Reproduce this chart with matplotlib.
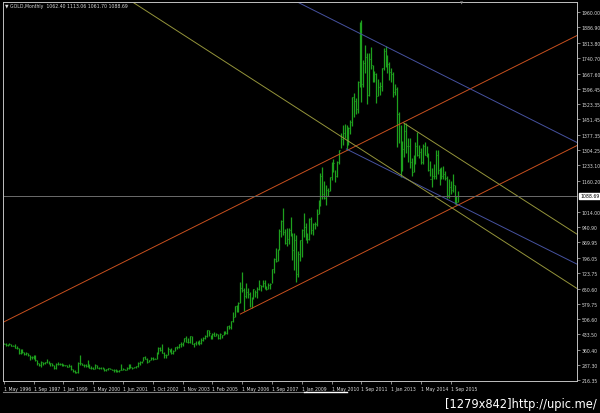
import numpy as np
import matplotlib.pyplot as plt
from matplotlib.lines import Line2D
import matplotlib.transforms as mtransforms

# GOLD monthly bars (May 1996 .. Jan 2016, broker feed with a few doubled months)
highs = [
    395, 393, 389, 391, 389, 385, 386, 378,
    369, 366, 363, 348, 350, 346, 335, 332, 336, 334, 311, 298,
    309, 304, 304, 315, 310, 299, 296, 290, 298, 305, 300, 298,
    292, 291, 291, 292, 290, 270, 264, 258, 304, 338, 300, 294,
    292, 313, 294, 285, 279, 294, 291, 280, 279, 279, 274, 272, 276, 276,
    272, 268, 268, 266, 265, 292, 277, 271, 281, 294, 293, 280, 281,
    283, 304, 306, 309, 328, 330, 322, 313, 327, 327, 321, 349,
    372, 372, 388, 352, 341, 372, 366, 371, 361, 376, 378, 390, 396, 399, 417,
    428, 417, 428, 428, 394, 404, 401, 408, 415, 419, 429, 455, 456,
    430, 439, 445, 438, 434, 442, 431, 448, 452, 474, 477, 497, 540,
    570, 574, 585, 680, 730, 652, 676, 652, 636, 612, 650, 644,
    660, 689, 667, 692, 691, 664, 677, 675, 745, 795, 841, 836,
    930, 976, 1033, 933, 935, 937, 988, 915, 912, 904, 830, 881,
    933, 1006, 962, 914, 985, 990, 960, 966, 1025, 1070, 1195, 1227,
    1161, 1140, 1127, 1180, 1249, 1265, 1212, 1252, 1307, 1388, 1424, 1431,
    1424, 1413, 1447, 1557, 1577, 1553, 1632, 1912, 1921, 1733, 1804, 1764,
    1764, 1791, 1710, 1681, 1669, 1640, 1629, 1694, 1789, 1796, 1754, 1723,
    1694, 1676, 1617, 1605, 1487, 1424, 1348, 1433, 1434, 1361, 1361, 1267,
    1280, 1346, 1392, 1331, 1315, 1332, 1345, 1324, 1290, 1255, 1221, 1239,
    1307, 1307, 1223, 1224, 1232, 1205, 1181, 1170, 1157, 1191, 1142, 1089,
    1113.06,
]
lows = [
    388, 380, 378, 383, 378, 377, 369, 366,
    342, 343, 345, 336, 338, 333, 314, 318, 318, 308, 288, 282,
    278, 289, 292, 299, 292, 286, 286, 271, 272, 288, 290, 284,
    285, 283, 278, 279, 267, 257, 252, 252, 253, 287, 288, 280,
    280, 281, 274, 270, 268, 270, 275, 270, 271, 268, 262, 262, 266, 268,
    263, 255, 255, 256, 255, 264, 266, 265, 265, 272, 275, 270, 274,
    277, 281, 290, 300, 308, 315, 300, 301, 312, 312, 315, 317,
    343, 355, 344, 320, 324, 337, 350, 342, 342, 353, 366, 371, 376, 379, 396,
    399, 391, 391, 386, 372, 383, 388, 385, 389, 402, 412, 423, 428,
    414, 413, 424, 424, 414, 414, 417, 430, 435, 434, 458, 459, 490,
    516, 539, 539, 583, 635, 543, 605, 607, 562, 560, 603, 611,
    607, 645, 637, 656, 650, 642, 648, 648, 675, 722, 775, 782,
    833, 893, 902, 863, 853, 859, 901, 786, 740, 681, 705, 780,
    800, 894, 880, 867, 880, 908, 905, 933, 944, 1003, 1043, 1075,
    1072, 1045, 1088, 1114, 1164, 1200, 1155, 1179, 1241, 1314, 1330, 1363,
    1308, 1328, 1382, 1418, 1462, 1478, 1480, 1603, 1535, 1604, 1669, 1523,
    1563, 1689, 1627, 1628, 1527, 1562, 1565, 1583, 1686, 1697, 1672, 1636,
    1626, 1555, 1566, 1321, 1338, 1180, 1206, 1271, 1291, 1251, 1221, 1182,
    1202, 1240, 1277, 1268, 1241, 1240, 1282, 1273, 1206, 1181, 1132, 1168,
    1167, 1191, 1142, 1170, 1170, 1162, 1077, 1077, 1098, 1107, 1052, 1046,
    1061.70,
]
closes = [
    390, 382, 385, 387, 379, 379, 371, 369,
    345, 358, 348, 340, 344, 334, 326, 325, 332, 311, 296, 290,
    303, 297, 301, 308, 293, 296, 288, 273, 293, 292, 294, 288,
    287, 287, 279, 286, 268, 261, 255, 254, 299, 299, 291, 290,
    283, 293, 277, 274, 272, 289, 276, 277, 275, 273, 264, 270, 274, 272,
    265, 267, 258, 260, 263, 267, 270, 266, 273, 293, 278, 275, 278,
    282, 297, 302, 308, 326, 318, 304, 312, 324, 316, 318, 347,
    367, 360, 347, 334, 336, 364, 358, 346, 354, 375, 372, 388, 386, 398, 416,
    400, 396, 427, 386, 393, 395, 393, 391, 407, 415, 428, 453, 438,
    422, 435, 428, 435, 417, 435, 430, 433, 440, 473, 470, 495, 517,
    569, 556, 583, 654, 643, 614, 632, 623, 598, 604, 646, 632,
    650, 665, 662, 678, 659, 650, 665, 672, 743, 789, 783, 834,
    923, 972, 916, 865, 886, 928, 912, 832, 880, 718, 814, 882,
    927, 942, 916, 883, 979, 927, 955, 955, 1001, 1040, 1182, 1096,
    1081, 1118, 1113, 1180, 1213, 1244, 1181, 1248, 1307, 1358, 1386, 1421,
    1332, 1410, 1439, 1556, 1536, 1500, 1628, 1826, 1620, 1716, 1746, 1566,
    1737, 1710, 1669, 1664, 1562, 1604, 1610, 1692, 1772, 1720, 1713, 1675,
    1663, 1578, 1595, 1476, 1393, 1234, 1312, 1395, 1327, 1323, 1251, 1202,
    1244, 1326, 1284, 1296, 1250, 1327, 1282, 1287, 1210, 1171, 1182, 1184,
    1283, 1212, 1183, 1183, 1190, 1172, 1095, 1132, 1115, 1142, 1065, 1061,
    1088.69,
]

date_labels = ['1 May 1996', '1 Sep 1997', '1 Jan 1999', '1 May 2000', '1 Jun 2001',
               '1 Oct 2002', '1 Nov 2003', '1 Feb 2005', '1 May 2006', '1 Sep 2007',
               '1 Jan 2009', '1 May 2010', '1 Sep 2011', '1 Jan 2013', '1 May 2014',
               '1 Sep 2015']
price_ticks = [1960.00, 1886.90, 1813.80, 1740.70, 1667.60, 1596.45, 1523.35, 1451.45,
               1377.35, 1304.25, 1233.10, 1160.20, 1014.00, 940.90, 869.95, 796.05,
               723.75, 650.60, 579.75, 506.60, 433.50, 360.40, 287.30, 216.35]
last_bar = [1062.40, 1113.06, 1061.70, 1088.69]  # O H L C

# trend lines: (bar0, price0, bar1, price1)
trend_lines = {
    'orange_up': (-0.4, 490.7, 307.6, 1846.6),
    'orange_lo': (127.0, 530.0, 307.6, 1326.3),
    'blue_up': (157.2, 2007.5, 307.6, 1342.0),
    'blue_lo': (183.9, 1310.5, 307.6, 766.6),
    'olive_long': (68.8, 2007.4, 307.6, 651.7),
    'olive_short': (214.7, 1433.6, 307.6, 908.5),
}
line_colors = {'orange_up': '#c8501e', 'orange_lo': '#c8501e',
               'blue_up': '#4652a0', 'blue_lo': '#4652a0',
               'olive_long': '#94943a', 'olive_short': '#94943a'}

fig = plt.figure(figsize=(6.0, 4.14), dpi=100, facecolor='black')
ax = fig.add_axes([0.005, 0.0773, 0.9562, 0.9162], facecolor='black')

idx = np.arange(len(closes))
ax.vlines(idx, lows, highs, color='#1ea01e', linewidth=0.9)
ax.hlines(closes, idx, idx + 0.45, color='#1ea01e', linewidth=0.8)

for key, (x0, y0, x1, y1) in trend_lines.items():
    ax.plot([x0, x1], [y0, y1], color=line_colors[key], linewidth=0.7)

# current price line
ax.axhline(last_bar[3], color='#6c6c6c', linewidth=0.7)

ax.set_xlim(-0.43, 307.6)
ax.set_ylim(213.2, 2007.3)

for s in ax.spines.values():
    s.set_color('#c0c0c0')
    s.set_linewidth(0.7)

ax.yaxis.tick_right()
ax.set_yticks(price_ticks)
ax.set_yticklabels(['%.2f' % v for v in price_ticks])
ax.set_xticks(np.arange(len(date_labels)) * 16)
ax.set_xticklabels(date_labels, ha='left')
ax.tick_params(axis='both', colors='#c0c0c0', labelcolor='#d8d8d8', labelsize=3.3,
               length=2.5, width=0.5, pad=1)

trans = mtransforms.blended_transform_factory(ax.transAxes, ax.transData)
ax.text(1.006, last_bar[3], '%.2f' % last_bar[3], transform=trans, ha='left', va='center',
        fontsize=3.3, color='black',
        bbox=dict(facecolor='white', edgecolor='white', pad=0.6))

fig.text(0.009, 0.985, '\u25bc GOLD,Monthly  %.2f %.2f %.2f %.2f' % tuple(last_bar),
         fontsize=3.3, color='#d8d8d8', ha='left', va='center')
fig.text(0.77, 0.992, '\u25bc', fontsize=3, color='#909090', ha='center', va='center')

fig.add_artist(Line2D([0.005, 0.507], [0.0514, 0.0514], color='#808080', linewidth=0.8))
fig.add_artist(Line2D([0.507, 0.578], [0.0514, 0.0514], color='white', linewidth=1.0))

fig.text(0.995, 0.024, '[1279x842]http://upic.me/', ha='right', va='center',
         color='white', fontsize=9.2, family='DejaVu Sans', stretch='condensed')

fig.savefig('out.png', dpi=100, facecolor='black')
